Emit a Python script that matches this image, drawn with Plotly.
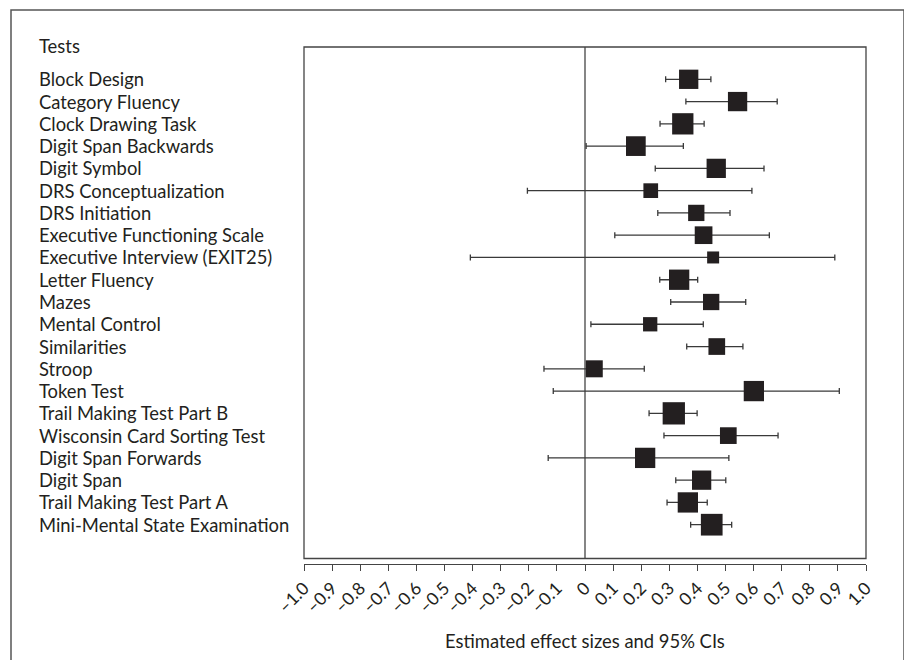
import plotly.graph_objects as go

tests = ["Block Design", "Category Fluency", "Clock Drawing Task", "Digit Span Backwards",
         "Digit Symbol", "DRS Conceptualization", "DRS Initiation", "Executive Functioning Scale",
         "Executive Interview (EXIT25)", "Letter Fluency", "Mazes", "Mental Control",
         "Similarities", "Stroop", "Token Test", "Trail Making Test Part B",
         "Wisconsin Card Sorting Test", "Digit Span Forwards", "Digit Span",
         "Trail Making Test Part A", "Mini-Mental State Examination"]
estimate = [0.369, 0.543, 0.348, 0.181, 0.467, 0.234, 0.396, 0.422, 0.456, 0.335, 0.449,
            0.232, 0.469, 0.033, 0.601, 0.316, 0.510, 0.214, 0.415, 0.366, 0.451]
ci_low = [0.287, 0.359, 0.267, 0.004, 0.250, -0.205, 0.259, 0.106, -0.408, 0.266, 0.305,
          0.021, 0.362, -0.146, -0.113, 0.228, 0.281, -0.131, 0.323, 0.292, 0.376]
ci_high = [0.448, 0.684, 0.424, 0.350, 0.637, 0.594, 0.516, 0.656, 0.889, 0.401, 0.572,
           0.421, 0.562, 0.211, 0.905, 0.399, 0.687, 0.512, 0.501, 0.435, 0.522]
weight = [19.3, 19.3, 21.3, 19.7, 19.3, 14.7, 16.3, 17.7, 12.0, 20.3, 16.3,
          14.3, 16.7, 17.0, 20.3, 22.3, 16.7, 20.3, 19.3, 20.3, 21.7]
tick_vals = [round(-1 + 0.1 * i, 1) for i in range(21)]
tick_text = ["\u20131.0", "\u20130.9", "\u20130.8", "\u20130.7", "\u20130.6", "\u20130.5",
             "\u20130.4", "\u20130.3", "\u20130.2", "\u20130.1", "0", "0.1", "0.2", "0.3",
             "0.4", "0.5", "0.6", "0.7", "0.8", "0.9", "1.0"]

FONT = "Lato"
INK = "#231f20"
idx = list(range(len(tests)))

# page body has an 8px margin; work in screen pixels and shift
OFF = 8
W, H = 912 - OFF, 660 - OFF
L, R, T, B = 304, 866, 47, 564  # screen pixels of plot area
pw, ph = R - L, B - T

def px_x(p):
    return (p - L) / pw

def px_y(p):
    return (B - p) / ph

fig = go.Figure()
fig.add_trace(go.Scatter(
    x=estimate, y=idx, mode="markers",
    marker=dict(symbol="square", size=weight, color=INK, opacity=1, line=dict(width=0)),
    error_x=dict(type="data", symmetric=False,
                 array=[h - e for h, e in zip(ci_high, estimate)],
                 arrayminus=[e - l for e, l in zip(estimate, ci_low)],
                 color="#3a3a3a", thickness=1.3, width=3),
    showlegend=False, hoverinfo="skip"))

for i, name in enumerate(tests):
    fig.add_annotation(x=px_x(37), xref="paper", y=i, yref="y", text=name,
                       xanchor="left", yanchor="middle", showarrow=False,
                       font=dict(family=FONT, size=18.4, color=INK))
fig.add_annotation(x=px_x(37), xref="paper", y=px_y(46), yref="paper", text="Tests",
                   xanchor="left", yanchor="middle", showarrow=False,
                   font=dict(family=FONT, size=18.4, color=INK))
fig.add_annotation(x=0, xref="x", y=px_y(641), yref="paper",
                   text="Estimated effect sizes and 95% CIs",
                   xanchor="center", yanchor="middle", showarrow=False,
                   font=dict(family=FONT, size=18.4, color=INK))

# plot box
fig.add_shape(type="rect", xref="paper", yref="paper", x0=0, x1=1,
              y0=px_y(558.5), y1=1, line=dict(color="#444", width=1.3), layer="below")
# zero line
fig.add_shape(type="line", xref="x", yref="paper", x0=0, x1=0,
              y0=px_y(558.5), y1=1, line=dict(color="#444", width=1.3), layer="below")
# outer frame
fig.add_shape(type="rect", xref="paper", yref="paper", x0=px_x(11), x1=px_x(904),
              y0=px_y(690), y1=px_y(10), line=dict(color="#555", width=1.5), layer="below")

# y positions: first row at screen y 79.3, spacing 22.27
spacing = 22.27
y_top = -(79.3 - T) / spacing
y_bot = y_top + ph / spacing

fig.update_layout(
    width=W, height=H,
    margin=dict(l=L - OFF, r=912 - R, t=T - OFF, b=660 - B, pad=0),
    plot_bgcolor="white", paper_bgcolor="white",
    font=dict(family=FONT, color=INK),
    xaxis=dict(range=[-1, 1], tickvals=tick_vals, ticktext=tick_text, tickangle=-45,
               ticks="outside", ticklen=6, tickwidth=1, tickcolor="#444",
               showline=True, linecolor="#444", linewidth=1.3,
               showgrid=False, zeroline=False, tickfont=dict(family=FONT, size=17.5, color=INK)),
    yaxis=dict(range=[y_bot, y_top], showticklabels=False, showgrid=False,
               zeroline=False, showline=False, ticks=""),
)

fig.write_html("out.html")
